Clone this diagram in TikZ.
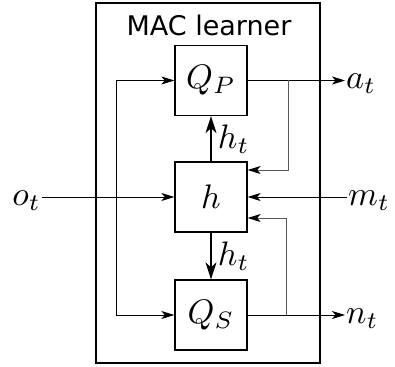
\documentclass[tikz,border=0pt]{standalone}
\usepackage{graphicx}
\usepackage{fontspec}
\setsansfont{DejaVu Sans}
\usetikzlibrary{arrows.meta, positioning, calc}

\newcommand{\bigmath}[1]{\scalebox{3.4}{$#1$}}

\begin{document}
\begin{tikzpicture}[x=1pt, y=-1pt, >=Stealth, every node/.style={font=\fontsize{10}{12}\selectfont},
  blk/.style={draw, line width=1.3pt, minimum width=72pt, minimum height=70pt, inner sep=0pt},
  wire/.style={->, line width=0.8pt, >={Stealth[length=13pt, width=8pt, inset=3.5pt, color=black]}},
  fb/.style={wire, draw=black!65},
  hidden/.style={->, line width=1.3pt, >={Stealth[length=17pt, width=11pt, inset=5pt]}}]
  \useasboundingbox (0,0) rectangle (395,366);
  \node[draw, line width=1.3pt, minimum width=224pt, minimum height=360pt] (learner) at (208,183) {};
  \node[font=\sffamily\fontsize{27}{30}\selectfont] (title) at (209,25) {MAC learner};
  \node[blk] (qp) at (211,80.5) {\bigmath{Q_P}};
  \node[blk] (h)  at (211,197)  {\bigmath{h}};
  \node[blk] (qs) at (211,315)  {\bigmath{Q_S}};
  \node[anchor=east, inner sep=1pt] (ot) at (42,201) {\bigmath{o_t}};
  \node[anchor=west, inner sep=1pt] (mt) at (347,201) {\bigmath{m_t}};
  \node[anchor=west, inner sep=1pt] (at) at (345,84) {\bigmath{a_t}};
  \node[anchor=west, inner sep=1pt] (nt) at (345,319) {\bigmath{n_t}};
  \coordinate (oj) at (116,197);
  \coordinate (pj) at (288,80.5);
  \coordinate (sj) at (286,315);
  % inputs
  \draw[wire] (ot.east |- h.west) -- (h.west);
  \draw[wire] (oj) |- (qp.west);
  \draw[wire] (oj) |- (qs.west);
  \draw[wire] (mt.west |- h.east) -- (h.east);
  % outputs and feedback
  \draw[wire] (qp.east) -- (at.west |- qp.east);
  \draw[wire] (qs.east) -- (nt.west |- qs.east);
  \draw[fb] (pj) |- ($(h.east)+(0,-27)$);
  \draw[fb] (sj) |- ($(h.east)+(0,21)$);
  % hidden state
  \draw[hidden] (h) -- (qp) node[midway, right=3pt] {\bigmath{h_t}};
  \draw[hidden] (h) -- (qs) node[midway, right=3pt] {\bigmath{h_t}};
\end{tikzpicture}
\end{document}
